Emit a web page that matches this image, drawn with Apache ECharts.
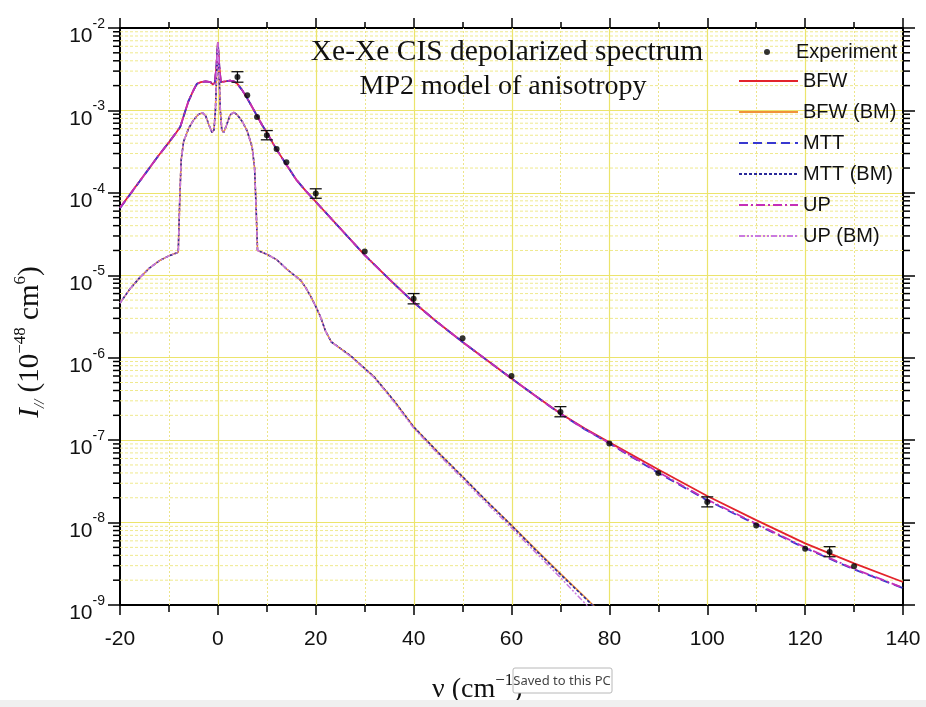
<!DOCTYPE html>
<html><head><meta charset="utf-8">
<script src="https://cdn.jsdelivr.net/npm/echarts@6/dist/echarts.min.js"></script>
<style>html,body{margin:0;padding:0;background:#fff}#c{width:926px;height:707px}</style>
</head><body><div id="c"></div>
<script>
// ---------- data ----------
const xMain = [-20,-16,-12,-10,-8.5,-7.7,-7,-6,-5,-4.3,-3.5,-2.5,-1.5,-1,-0.6,-0.3,0,0.3,0.6,1,1.5,2.5,3.3,4,5,6,7,8,9,10,12,14,16,18,20,25,30,35,40,45,50,55,60,65,70,75,80,90,100,110,120,130,140];
const bfw = [6.6e-5,1.38e-4,2.9e-4,4.1e-4,5.4e-4,6.3e-4,8.5e-4,1.3e-3,1.75e-3,2.1e-3,2.2e-3,2.25e-3,2.2e-3,2.05e-3,2.2e-3,3.4e-3,6.6e-3,3.4e-3,2.2e-3,2.1e-3,2.25e-3,2.3e-3,2.25e-3,2.1e-3,1.75e-3,1.4e-3,1.1e-3,8.6e-4,6.7e-4,5.4e-4,3.35e-4,2.2e-4,1.45e-4,1.05e-4,7.8e-5,3.7e-5,1.76e-5,9.0e-6,4.7e-6,2.65e-6,1.55e-6,9.3e-7,5.6e-7,3.4e-7,2.1e-7,1.38e-7,9.4e-8,4.4e-8,2.1e-8,1.07e-8,5.6e-9,3.2e-9,1.9e-9];
const mtt = [6.5e-5,1.37e-4,2.9e-4,4.1e-4,5.4e-4,6.3e-4,8.5e-4,1.3e-3,1.75e-3,2.1e-3,2.2e-3,2.25e-3,2.2e-3,2.05e-3,2.2e-3,3.4e-3,6.5e-3,3.4e-3,2.2e-3,2.1e-3,2.25e-3,2.3e-3,2.25e-3,2.1e-3,1.75e-3,1.4e-3,1.1e-3,8.6e-4,6.7e-4,5.4e-4,3.35e-4,2.2e-4,1.45e-4,1.05e-4,7.8e-5,3.7e-5,1.76e-5,9.0e-6,4.7e-6,2.65e-6,1.55e-6,9.3e-7,5.6e-7,3.4e-7,2.08e-7,1.35e-7,9.1e-8,4.0e-8,1.86e-8,9.5e-9,4.9e-9,2.7e-9,1.6e-9];
const up = [6.6e-5,1.38e-4,2.9e-4,4.1e-4,5.4e-4,6.3e-4,8.5e-4,1.3e-3,1.75e-3,2.1e-3,2.2e-3,2.25e-3,2.2e-3,2.05e-3,2.2e-3,3.4e-3,6.7e-3,3.4e-3,2.2e-3,2.1e-3,2.25e-3,2.3e-3,2.25e-3,2.1e-3,1.75e-3,1.4e-3,1.1e-3,8.6e-4,6.7e-4,5.4e-4,3.35e-4,2.2e-4,1.45e-4,1.05e-4,7.8e-5,3.7e-5,1.76e-5,9.0e-6,4.7e-6,2.65e-6,1.55e-6,9.3e-7,5.6e-7,3.4e-7,2.09e-7,1.36e-7,9.2e-8,4.1e-8,1.9e-8,9.7e-9,5.0e-9,2.75e-9,1.62e-9];

const xBM = [-20,-18,-16,-14,-12,-10,-8.1,-7.8,-7.5,-7,-6,-5,-4,-3.2,-2.5,-1.8,-1.2,-0.8,-0.5,-0.25,0,0.25,0.5,0.8,1.2,1.8,2.5,3.2,4,5,6,7,7.5,7.8,8.1,10,12,14,16,17,18,19,20,21,22,23.2,27,32,36,40,45,50,55,60,65,70,75,77,78];
const bfwBM = [4.6e-6,6.8e-6,9.3e-6,1.22e-5,1.5e-5,1.72e-5,1.9e-5,8e-5,2.5e-4,4.2e-4,6.0e-4,7.6e-4,8.9e-4,9.4e-4,8.6e-4,6.6e-4,5.4e-4,5.8e-4,1.0e-3,2.8e-3,6.5e-3,2.8e-3,1.0e-3,5.8e-4,5.4e-4,6.7e-4,8.8e-4,9.5e-4,8.8e-4,7.3e-4,5.6e-4,3.6e-4,2.0e-4,7e-5,2.0e-5,1.8e-5,1.55e-5,1.2e-5,9.6e-6,8.6e-6,7.0e-6,5.5e-6,4.2e-6,3.1e-6,2.1e-6,1.55e-6,1.07e-6,5.8e-7,3.0e-7,1.45e-7,7.1e-8,3.6e-8,1.8e-8,9.3e-9,4.7e-9,2.4e-9,1.25e-9,9.5e-10,8.3e-10];
const mttBM = [4.6e-6,6.8e-6,9.3e-6,1.22e-5,1.5e-5,1.72e-5,1.9e-5,8e-5,2.5e-4,4.2e-4,6.0e-4,7.6e-4,8.9e-4,9.4e-4,8.6e-4,6.6e-4,5.4e-4,5.8e-4,1.0e-3,2.8e-3,6.4e-3,2.8e-3,1.0e-3,5.8e-4,5.4e-4,6.7e-4,8.8e-4,9.5e-4,8.8e-4,7.3e-4,5.6e-4,3.6e-4,2.0e-4,7e-5,2.0e-5,1.8e-5,1.55e-5,1.2e-5,9.6e-6,8.6e-6,7.0e-6,5.5e-6,4.2e-6,3.1e-6,2.1e-6,1.55e-6,1.07e-6,5.8e-7,3.0e-7,1.45e-7,7.1e-8,3.6e-8,1.8e-8,9.2e-9,4.6e-9,2.35e-9,1.22e-9,9.3e-10,8.1e-10];
const upBM = [4.6e-6,6.8e-6,9.3e-6,1.22e-5,1.5e-5,1.72e-5,1.9e-5,8e-5,2.5e-4,4.2e-4,6.0e-4,7.6e-4,8.9e-4,9.4e-4,8.6e-4,6.6e-4,5.4e-4,5.8e-4,1.0e-3,2.8e-3,6.6e-3,2.8e-3,1.0e-3,5.8e-4,5.4e-4,6.7e-4,8.8e-4,9.5e-4,8.8e-4,7.3e-4,5.6e-4,3.6e-4,2.0e-4,7e-5,2.0e-5,1.8e-5,1.55e-5,1.2e-5,9.6e-6,8.6e-6,7.0e-6,5.5e-6,4.2e-6,3.1e-6,2.1e-6,1.55e-6,1.05e-6,5.7e-7,2.9e-7,1.4e-7,6.8e-8,3.4e-8,1.7e-8,8.6e-9,4.3e-9,2.15e-9,1.05e-9,8.0e-10,7.0e-10];

const expX = [4,6,8,10,12,14,20,30,40,50,60,70,80,90,100,110,120,125,130];
const expY = [2.55e-3,1.53e-3,8.3e-4,5.0e-4,3.4e-4,2.35e-4,9.8e-5,1.95e-5,5.2e-6,1.72e-6,6.0e-7,2.2e-7,9.1e-8,4.0e-8,1.78e-8,9.2e-9,4.8e-9,4.4e-9,2.95e-9];
const errX  = [4,10,20,40,70,100,125];
const errLo = [2.2e-3,4.4e-4,8.6e-5,4.5e-6,1.92e-7,1.55e-8,3.85e-9];
const errHi = [2.95e-3,5.7e-4,1.12e-4,6.0e-6,2.55e-7,2.05e-8,5.1e-9];

const seriesNames = ['BFW','BFW (BM)','MTT','MTT (BM)','UP','UP (BM)'];
const xMin = -20, xMax = 140, xStep = 20;
const yMin = 1e-9, yMax = 1e-2;

// ---------- helpers ----------
const pairs = (xs, ys) => xs.map((x, i) => [x, ys[i]]);
const yMinor = [];
for (let k = -9; k <= -3; k++) for (let m = 2; m <= 9; m++) yMinor.push(m * Math.pow(10, k));
const xGrid = [];   // [value, isMajor]
for (let v = xMin + xStep / 2; v < xMax; v += xStep / 2) xGrid.push([v, (v - xMin) % xStep === 0 ? 1 : 0]);

const YEL = '#ece46c', YEL2 = '#efe98e';
const SANS = '"Liberation Sans", Arial, sans-serif';
const SERIF = '"Liberation Serif", "Times New Roman", serif';

const chart = echarts.init(document.getElementById('c'), null, {renderer: 'canvas'});

function lineSeries(name, xs, ys, color, width, type, z) {
  return {
    name, type: 'line', data: pairs(xs, ys), symbol: 'none', showSymbol: false,
    lineStyle: {color, width, type}, itemStyle: {color}, z: z, animation: false
  };
}

const option = {
  animation: false,
  backgroundColor: '#fff',
  grid: {left: 120, right: 23, top: 28, bottom: 102, containLabel: false},
  xAxis: [{
    type: 'value', min: xMin, max: xMax, interval: xStep, position: 'bottom',
    axisLine: {show: true, onZero: false, lineStyle: {color: '#000', width: 2}},
    axisTick: {show: true, inside: false, length: 10, lineStyle: {color: '#000', width: 1.5}},
    minorTick: {show: true, splitNumber: 2, length: 7, lineStyle: {color: '#000', width: 1.5}},
    axisLabel: {show: true, margin: 24, fontSize: 21, fontFamily: SANS, color: '#111'},
    splitLine: {show: false}, minorSplitLine: {show: false}
  }, {
    type: 'value', min: xMin, max: xMax, interval: xStep, position: 'top',
    axisLine: {show: true, onZero: false, lineStyle: {color: '#000', width: 2}},
    axisTick: {show: true, inside: false, length: 10, lineStyle: {color: '#000', width: 1.5}},
    minorTick: {show: true, splitNumber: 2, length: 6, lineStyle: {color: '#000', width: 1.5}},
    axisLabel: {show: false}, splitLine: {show: false}, minorSplitLine: {show: false}
  }],
  yAxis: [{
    type: 'log', logBase: 10, min: yMin, max: yMax, splitNumber: 7, position: 'left',
    axisLine: {show: true, onZero: false, lineStyle: {color: '#000', width: 2}},
    axisTick: {show: true, inside: false, length: 12, lineStyle: {color: '#000', width: 1.5}},
    axisLabel: {
      show: true, margin: 15, padding: [8, 0, 0, 0],
      formatter: v => '{b|10}{s|' + Math.round(Math.log10(v)) + '}',
      rich: {
        b: {fontSize: 21, fontFamily: SANS, color: '#111', lineHeight: 30, verticalAlign: 'bottom'},
        s: {fontSize: 14, fontFamily: SANS, color: '#111', lineHeight: 18, verticalAlign: 'top'}
      }
    },
    splitLine: {show: true, lineStyle: {color: YEL, width: 1.2}}
  }, {
    type: 'log', logBase: 10, min: yMin, max: yMax, splitNumber: 7, position: 'right',
    axisLine: {show: true, onZero: false, lineStyle: {color: '#000', width: 2}},
    axisTick: {show: true, inside: false, length: 12, lineStyle: {color: '#000', width: 1.5}},
    axisLabel: {show: false}, splitLine: {show: false}
  }],
  legend: [{
    orient: 'vertical', left: 733, top: 66, itemWidth: 59, itemHeight: 14, itemGap: 11,
    data: seriesNames, selectedMode: false,
    itemStyle: {opacity: 0},
    textStyle: {fontSize: 20, fontFamily: SANS, color: '#111'}
  }, {
    orient: 'vertical', left: 759, top: 37, itemWidth: 6, itemHeight: 6,
    data: [{name: 'Experiment', icon: 'circle'}], selectedMode: false,
    textStyle: {fontSize: 20, fontFamily: SANS, color: '#111', padding: [0, 0, 0, 21]}
  }],
  series: [
    {
      type: 'custom', name: 'minorGridY', silent: true, clip: false, z: 1,
      data: yMinor.map(v => [xMin, v]), encode: {x: 0, y: 1},
      renderItem: (params, api) => {
        const v = api.value(1);
        const a = api.coord([xMin, v]), b = api.coord([xMax, v]);
        return {type: 'group', children: [
          {type: 'line', shape: {x1: a[0], y1: a[1], x2: b[0], y2: b[1]}, style: {stroke: YEL2, lineWidth: 1, lineDash: [3, 2]}},
          {type: 'line', shape: {x1: a[0] - 7, y1: a[1], x2: a[0], y2: a[1]}, style: {stroke: '#000', lineWidth: 1.5}},
          {type: 'line', shape: {x1: b[0], y1: b[1], x2: b[0] + 7, y2: b[1]}, style: {stroke: '#000', lineWidth: 1.5}}
        ]};
      }
    },
    {
      type: 'custom', name: 'gridX', silent: true, clip: true, z: 1,
      data: xGrid.map(g => [g[0], yMin, g[1]]), encode: {x: 0, y: 1},
      renderItem: (params, api) => {
        const v = api.value(0), major = api.value(2) === 1;
        const a = api.coord([v, yMin]), b = api.coord([v, yMax]);
        const x = Math.round(a[0]) + 0.5;
        return {type: 'line', shape: {x1: x, y1: a[1], x2: x, y2: b[1]},
          style: major ? {stroke: YEL, lineWidth: 1.2} : {stroke: '#ede58a', lineWidth: 1, lineDash: [2, 2]}};
      }
    },
    lineSeries('BFW', xMain, bfw, '#e3232b', 1.8, 'solid', 3),
    lineSeries('BFW (BM)', xBM, bfwBM, '#f0923a', 1.6, 'solid', 3),
    lineSeries('MTT', xMain, mtt, '#3838cf', 1.8, [9, 5], 3),
    lineSeries('MTT (BM)', xBM, mttBM, '#2a2a9a', 1.6, [3, 2], 3),
    lineSeries('UP', xMain, up, '#c42fb8', 1.8, [9, 3, 2, 3], 3),
    lineSeries('UP (BM)', xBM, upBM, '#c97adf', 1.5, [6, 2, 2, 2, 2, 2], 3),
    {
      type: 'custom', name: 'errorBars', silent: true, z: 4,
      data: errX.map((x, i) => [x, errLo[i], errHi[i]]), encode: {x: 0, y: [1, 2]},
      renderItem: (params, api) => {
        const x = api.value(0);
        const lo = api.coord([x, api.value(1)]), hi = api.coord([x, api.value(2)]);
        const st = {stroke: '#111', lineWidth: 1.3};
        return {type: 'group', children: [
          {type: 'line', shape: {x1: lo[0], y1: lo[1], x2: hi[0], y2: hi[1]}, style: st},
          {type: 'line', shape: {x1: lo[0] - 6, y1: lo[1], x2: lo[0] + 6, y2: lo[1]}, style: st},
          {type: 'line', shape: {x1: hi[0] - 6, y1: hi[1], x2: hi[0] + 6, y2: hi[1]}, style: st}
        ]};
      }
    },
    {
      name: 'Experiment', type: 'scatter', data: pairs(expX, expY),
      symbol: 'circle', symbolSize: 6, itemStyle: {color: '#000'}, z: 5
    }
  ],
  graphic: [
    {type: 'text', x: 507, y: 52, z: 50, style: {text: 'Xe-Xe CIS depolarized spectrum', font: '29.5px ' + SERIF, fill: '#111', align: 'center', verticalAlign: 'middle'}},
    {type: 'text', x: 503, y: 87, z: 50, style: {text: 'MP2 model of anisotropy', font: '28px ' + SERIF, fill: '#111', align: 'center', verticalAlign: 'middle'}},
    {type: 'text', x: 30, y: 342, rotation: Math.PI / 2, z: 50, style: {
      text: '{i|I}{sub|//}{n| (10}{sup|\u221248}{n| cm}{sup|6}{n|)}',
      align: 'center', verticalAlign: 'middle',
      rich: {
        i: {fontSize: 29, fontFamily: SERIF, fontStyle: 'italic', fill: '#111', lineHeight: 36},
        n: {fontSize: 29, fontFamily: SERIF, fill: '#111', lineHeight: 36},
        sub: {fontSize: 15, fontFamily: SERIF, fontStyle: 'italic', fill: '#111', lineHeight: 18, verticalAlign: 'bottom'},
        sup: {fontSize: 17, fontFamily: SERIF, fill: '#111', lineHeight: 14, verticalAlign: 'top'}
      }
    }},
    {type: 'text', x: 432, y: 690, z: 50, style: {
      text: '{n|\u03bd (cm}{sup|\u22121}{n|)}',
      align: 'left', verticalAlign: 'middle',
      rich: {
        n: {fontSize: 28, fontFamily: SERIF, fill: '#111', lineHeight: 36},
        sup: {fontSize: 17, fontFamily: SERIF, fill: '#111', lineHeight: 14, verticalAlign: 'top'}
      }
    }},
    {type: 'rect', x: 0, y: 700, z: 90, shape: {width: 926, height: 7}, style: {fill: '#f0f0f0'}},
    {type: 'rect', x: 513, y: 668, z: 100, shape: {width: 99, height: 25, r: 2}, style: {fill: '#fff', stroke: '#b8b8b8', lineWidth: 1}},
    {type: 'text', x: 562, y: 681, z: 101, style: {text: 'Saved to this PC', font: '13px "Noto Sans", "Open Sans", sans-serif', fill: '#444', align: 'center', verticalAlign: 'middle'}}
  ]
};
chart.setOption(option);
</script></body></html>
